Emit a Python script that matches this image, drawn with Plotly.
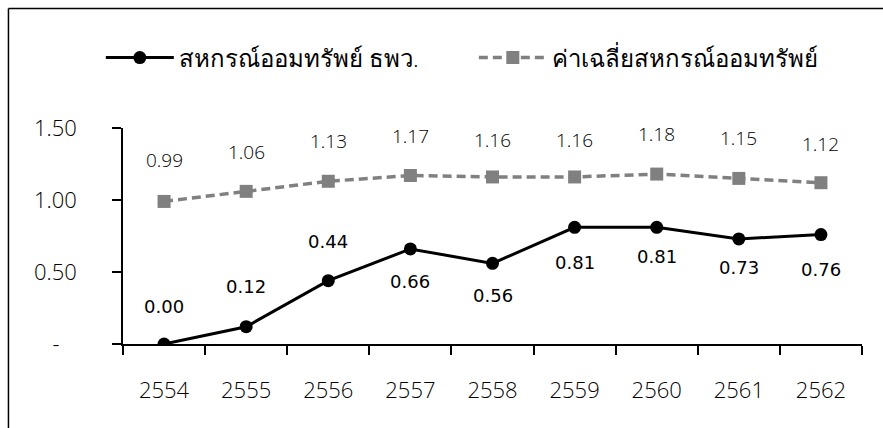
import plotly.graph_objects as go

# Fiscal years (Buddhist calendar)
years = ["2554", "2555", "2556", "2557", "2558", "2559", "2560", "2561", "2562"]

# Ratio for the SME Bank savings cooperative
sme_coop = [0.00, 0.12, 0.44, 0.66, 0.56, 0.81, 0.81, 0.73, 0.76]
# Average ratio of all savings cooperatives
avg_coop = [0.99, 1.06, 1.13, 1.17, 1.16, 1.16, 1.18, 1.15, 1.12]

series_names = ["สหกรณ์ออมทรัพย์ ธพว.", "ค่าเฉลี่ยสหกรณ์ออมทรัพย์"]

y_tick_vals = [0, 0.5, 1.0, 1.5]
y_tick_text = ["-\u00a0\u00a0\u00a0", "0.50", "1.00", "1.50"]

# vertical pixel offset of each value label from its marker
sme_label_shift = [38, 40, 39, -33, -32, -35, -29, -29, -35]
avg_label_shift = [41, 39, 40, 40, 37, 37, 40, 40, 39]

LIGHT_FONT = "Open Sans, Noto Sans, sans-serif"
BOLD_FONT = "DejaVu Sans, Tahoma, sans-serif"

fig = go.Figure()

fig.add_trace(go.Scatter(
    x=years, y=sme_coop, name=series_names[0], mode="lines+markers",
    line=dict(color="black", width=3),
    marker=dict(symbol="circle", size=13, color="black"),
))
fig.add_trace(go.Scatter(
    x=years, y=avg_coop, name=series_names[1], mode="lines+markers",
    line=dict(color="#808080", width=3.5, dash="9px,5px"),
    marker=dict(symbol="square", size=13, color="#808080"),
))

# value labels; on a category axis annotations are placed by category index
annotations = []
for i, (v, s) in enumerate(zip(sme_coop, sme_label_shift)):
    annotations.append(dict(
        x=i, y=v, xref="x", yref="y", text=f"{v:.2f}", showarrow=False, yshift=s,
        font=dict(family=BOLD_FONT, size=18, color="black", weight=400),
    ))
for i, (v, s) in enumerate(zip(avg_coop, avg_label_shift)):
    annotations.append(dict(
        x=i, y=v, xref="x", yref="y", text=f"{v:.2f}", showarrow=False, yshift=s,
        font=dict(family=LIGHT_FONT, size=19, color="black", weight=300),
    ))

# outer frame (top and left edges)
frame = [
    dict(type="line", xref="paper", yref="paper", x0=-0.155, x1=1.2,
         y0=1.553, y1=1.553, line=dict(color="black", width=1.5)),
    dict(type="line", xref="paper", yref="paper", x0=-0.155, x1=-0.155,
         y0=1.553, y1=-0.5, line=dict(color="black", width=1.5)),
]

fig.update_layout(
    width=883, height=428,
    margin=dict(l=123, r=21, t=128, b=84),
    paper_bgcolor="white", plot_bgcolor="white",
    font=dict(family=LIGHT_FONT, size=20, color="black", weight=300),
    showlegend=True,
    legend=dict(
        orientation="h", x=-0.03, xanchor="left", y=1.324, yanchor="middle",
        font=dict(family=LIGHT_FONT, size=24, color="black", weight=300),
        itemwidth=68, entrywidth=290, entrywidthmode="pixels",
        bgcolor="rgba(0,0,0,0)",
    ),
    annotations=annotations,
    shapes=frame,
)

fig.update_xaxes(
    type="category", range=[-0.5, 8.5],
    showline=True, linecolor="black", linewidth=1.5,
    ticks="outside", tickson="boundaries", ticklen=9, tickwidth=1.5, tickcolor="black",
    showgrid=False, zeroline=False, ticklabelstandoff=26,
    tickfont=dict(family=LIGHT_FONT, size=22, color="black", weight=300),
)
fig.update_yaxes(
    range=[0, 1.5], tickvals=y_tick_vals, ticktext=y_tick_text,
    showline=True, linecolor="black", linewidth=1.5,
    ticks="outside", ticklen=9, tickwidth=1.5, tickcolor="black",
    showgrid=False, zeroline=False, ticklabelstandoff=31,
    tickfont=dict(family=LIGHT_FONT, size=22, color="black", weight=300),
)

fig.write_html("out.html")
